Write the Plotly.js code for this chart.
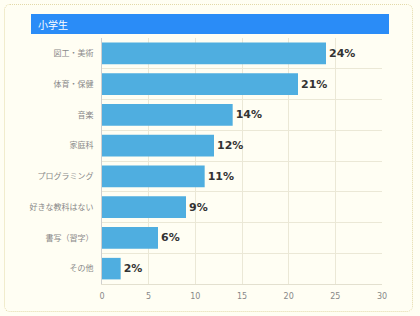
<!DOCTYPE html>
<html><head><meta charset="utf-8">
<script src="https://cdn.plot.ly/plotly-3.0.1.min.js"></script>
<style>
html,body{margin:0;padding:0;background:#fffef3;}
#frame{position:absolute;left:4px;top:4px;width:409px;height:308px;border:1px dotted #e3d9a8;border-radius:6px;box-sizing:border-box;}
#chart{position:absolute;left:0;top:0;width:420px;height:316px;}
</style></head>
<body>
<div id="frame"></div>
<div id="chart"></div>
<script>
const categories = ["図工・美術","体育・保健","音楽","家庭科","プログラミング","好きな教科はない","書写（習字）","その他"];
const values = [24, 21, 14, 12, 11, 9, 6, 2];
const labels = ["24%","21%","14%","12%","11%","9%","6%","2%"];
const xTicks = [0, 5, 10, 15, 20, 25, 30];
const titleText = "小学生";

const trace = {
  type: "bar", orientation: "h",
  x: values, y: categories,
  text: labels, textposition: "outside", cliponaxis: false,
  textfont: {family: "DejaVu Sans", size: 11, color: "#333333", weight: "bold"},
  marker: {color: "#4faee0"},
  width: 0.7, hoverinfo: "none"
};
const L = 102, R = 382, T = 38, B = 284;
const px = v => (v - L) / (R - L);
const py = v => (B - v) / (B - T);
const layout = {
  width: 420, height: 316,
  margin: {l: L, r: 420 - R, t: T, b: 316 - B, pad: 0},
  paper_bgcolor: "rgba(0,0,0,0)", plot_bgcolor: "rgba(0,0,0,0)",
  showlegend: false, bargap: 0.3,
  xaxis: {range: [0, 30], tickvals: xTicks, showgrid: true, gridcolor: "#ebe8d6", gridwidth: 1,
    zeroline: false, showline: true, linecolor: "#e3e0cf", mirror: false,
    tickfont: {family: "DejaVu Sans", size: 8, color: "#888888"}, ticks: "", ticklabelstandoff: 4, fixedrange: true},
  yaxis: {type: "category", autorange: "reversed", tickson: "boundaries", showgrid: true, gridcolor: "#ebe8d6",
    showline: true, linecolor: "#cfcfcf", ticks: "", ticklabelstandoff: 6,
    tickfont: {family: "Noto Sans CJK JP", size: 8, color: "#888888"}, fixedrange: true},
  shapes: [{type: "rect", xref: "paper", yref: "paper", x0: px(31), x1: px(389), y0: py(34), y1: py(14),
    fillcolor: "#2a8cf7", line: {width: 0}, layer: "above"}],
  annotations: [{xref: "paper", yref: "paper", x: px(36), y: py(24), xanchor: "left", yanchor: "middle",
    text: titleText, showarrow: false, font: {family: "Noto Sans CJK JP", size: 10, color: "#ffffff"}}]
};
Plotly.newPlot("chart", [trace], layout, {displayModeBar: false, staticPlot: true});
</script>
</body></html>
